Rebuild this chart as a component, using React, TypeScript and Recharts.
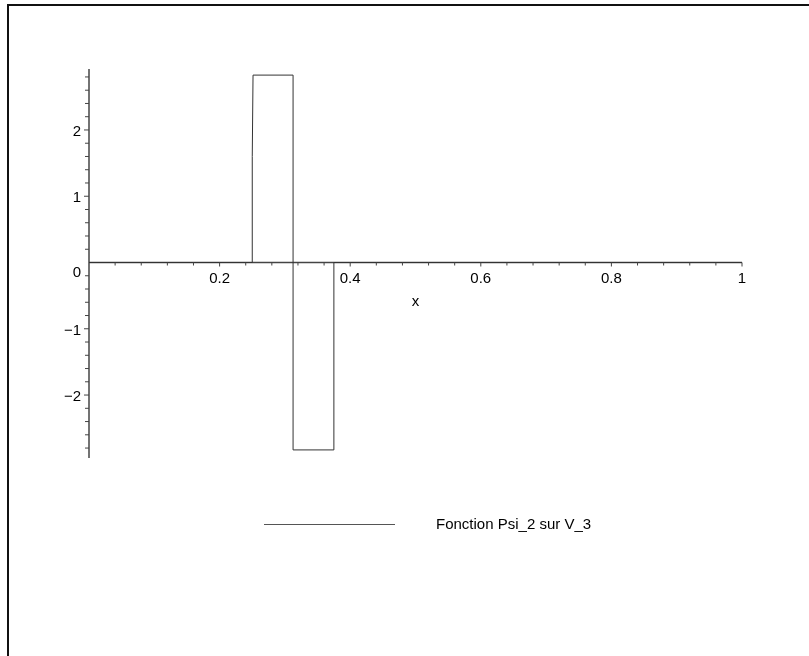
import React from 'react';
import { LineChart, Line, XAxis, YAxis, ReferenceLine, ReferenceDot } from 'recharts';

// Psi_2 on V_3 (Haar-like wavelet)
const xValues = [0, 0.25, 0.25, 0.2512, 0.3125, 0.3125, 0.375, 0.375, 1];
const yValues = [0, 0, 1.6, 2.828, 2.828, -2.828, -2.828, 0, 0];
const seriesName = 'Fonction Psi_2 sur V_3';

const xTickLabels = [0.2, 0.4, 0.6, 0.8, 1];
const xTickLabelText = ['0.2', '0.4', '0.6', '0.8', '1'];
const yTickLabels = [2, 1, -1, -2];
const yTickLabelText = ['2', '1', '\u22121', '\u22122'];
const xMinorTicks = [0.04, 0.08, 0.12, 0.16, 0.2, 0.24, 0.28, 0.32, 0.36, 0.4, 0.44, 0.48, 0.52, 0.56, 0.6, 0.64, 0.68, 0.72, 0.76, 0.8, 0.84, 0.88, 0.92, 0.96, 1];
const yMinorTicks = [2.8, 2.6, 2.4, 2.2, 2, 1.8, 1.6, 1.4, 1.2, 1, 0.8, 0.6, 0.4, 0.2, -0.2, -0.4, -0.6, -0.8, -1, -1.2, -1.4, -1.6, -1.8, -2, -2.2, -2.4, -2.6, -2.8];

const X_DOMAIN: [number, number] = [0, 1];
const Y_DOMAIN: [number, number] = [-2.95, 2.92];

const data = xValues.map((x, i) => ({ x, y: yValues[i] }));

const FONT = '"Liberation Sans", Arial, Helvetica, sans-serif';
const AXIS_COLOR = '#444';

const isMajor = (v: number, step: number) => Math.abs(v / step - Math.round(v / step)) < 1e-6;

export default function App() {
  return (
    <div style={{ position: 'relative', width: 790, height: 640 }}>
      <div
        style={{
          position: 'fixed',
          left: 7,
          top: 4,
          width: 810,
          height: 660,
          borderTop: '2px solid #111',
          borderLeft: '2px solid #111',
          boxSizing: 'border-box',
          pointerEvents: 'none',
        }}
      />
      <LineChart
        width={790}
        height={640}
        data={data}
        margin={{ top: 61, left: 81, right: 56, bottom: 190 }}
      >
        <XAxis dataKey="x" type="number" domain={X_DOMAIN} hide allowDataOverflow />
        <YAxis type="number" domain={Y_DOMAIN} hide allowDataOverflow />
        <ReferenceLine y={0} stroke={AXIS_COLOR} strokeWidth={1.5} />
        <ReferenceLine x={0} stroke={AXIS_COLOR} strokeWidth={1.5} />
        {xMinorTicks.map((v) => (
          <ReferenceDot
            key={'xt' + v}
            x={v}
            y={0}
            r={0}
            shape={(p: any) => (
              <line x1={p.cx} x2={p.cx} y1={p.cy} y2={p.cy + (isMajor(v, 0.2) ? 4 : 3)} stroke={AXIS_COLOR} strokeWidth={1} />
            )}
          />
        ))}
        {yMinorTicks.map((v) => (
          <ReferenceDot
            key={'yt' + v}
            x={0}
            y={v}
            r={0}
            shape={(p: any) => (
              <line x1={p.cx - (isMajor(v, 1) ? 5 : 4)} x2={p.cx} y1={p.cy} y2={p.cy} stroke={AXIS_COLOR} strokeWidth={1} />
            )}
          />
        ))}
        {xTickLabels.map((v, i) => (
          <ReferenceDot
            key={'xl' + v}
            x={v}
            y={0}
            r={0}
            shape={(p: any) => (
              <text x={p.cx} y={p.cy + 20} textAnchor="middle" fontFamily={FONT} fontSize={15} fill="#000">
                {xTickLabelText[i]}
              </text>
            )}
          />
        ))}
        {yTickLabels.map((v, i) => (
          <ReferenceDot
            key={'yl' + v}
            x={0}
            y={v}
            r={0}
            shape={(p: any) => (
              <text x={p.cx - 8} y={p.cy + 6} textAnchor="end" fontFamily={FONT} fontSize={15} fill="#000">
                {yTickLabelText[i]}
              </text>
            )}
          />
        ))}
        <ReferenceDot
          x={0}
          y={0}
          r={0}
          shape={(p: any) => (
            <text x={p.cx - 8} y={p.cy + 14} textAnchor="end" fontFamily={FONT} fontSize={15} fill="#000">
              0
            </text>
          )}
        />
        <ReferenceDot
          x={0.5}
          y={0}
          r={0}
          shape={(p: any) => (
            <text x={p.cx} y={p.cy + 43} textAnchor="middle" fontFamily={FONT} fontSize={15} fill="#000">
              x
            </text>
          )}
        />
        <Line
          type="linear"
          dataKey="y"
          name={seriesName}
          stroke="#333"
          strokeWidth={1}
          dot={false}
          activeDot={false}
          isAnimationActive={false}
        />
      </LineChart>
      <svg
        width={360}
        height={22}
        style={{ position: 'absolute', left: 256, top: 506, display: 'block' }}
      >
        <line x1={0} x2={131} y1={10.5} y2={10.5} stroke="#555" strokeWidth={1} />
        <text x={172} y={15} fontFamily={FONT} fontSize={15} fill="#000">
          {seriesName}
        </text>
      </svg>
    </div>
  );
}
